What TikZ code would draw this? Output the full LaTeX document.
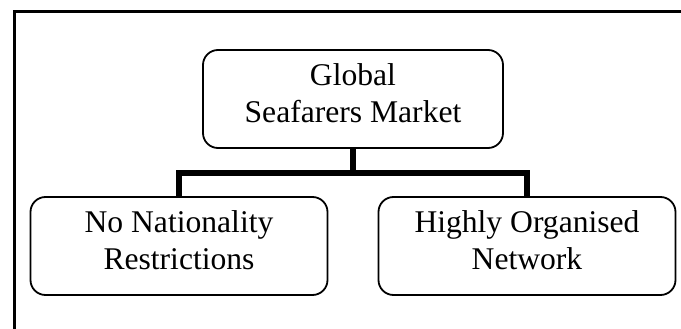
\documentclass[tikz,border=0pt]{standalone}
\usepackage{fontspec}
\setmainfont{Liberation Serif}
\begin{document}
\begin{tikzpicture}[x=1pt,y=-1pt,
  box/.style={draw, line width=1.8pt, rounded corners=15pt, minimum width=297pt, minimum height=98pt, inner sep=0pt, align=center, font=\fontsize{31.6}{37.5}\selectfont, execute at end node={\rule[-12pt]{0pt}{12pt}}},
  bar/.style={line width=6pt, line join=miter}]
\useasboundingbox (0,0) rectangle (681,329);
\draw[line width=3pt] (681,12) -- (14,12) -- (14,329);
\node[box, minimum width=300pt] (top) at (353,99) {Global\\Seafarers Market};
\node[box] (left) at (179,246) {No Nationality\\Restrictions};
\node[box] (right) at (527,246) {Highly Organised\\Network};
\coordinate (j) at (353,173);
\draw[bar] (top.south) -- (j);
\draw[bar] (left.north) |- (j) -| (right.north);
\end{tikzpicture}
\end{document}
